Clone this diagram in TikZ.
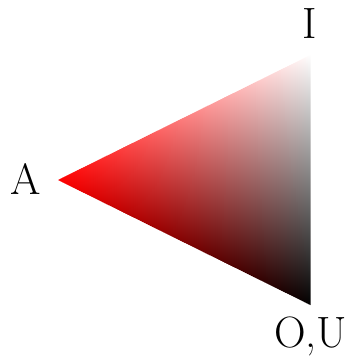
\documentclass[tikz,border=0pt]{standalone}
\begin{document}
\begin{tikzpicture}[x=1bp,y=-1bp,
  lbl/.style={anchor=base,inner sep=0pt,font=\fontsize{44}{50}\selectfont}]
\useasboundingbox (0,0) rectangle (349,360);
\coordinate (A) at (58,180);
\coordinate (I) at (310.5,55);
\coordinate (O) at (310.5,305);
\begin{scope}
\clip (A) -- (I) -- (O) -- cycle;
\foreach \k in {0,...,119}{
  \pgfmathsetmacro{\xa}{58+\k*2.10417}
  \pgfmathsetmacro{\xb}{\xa+2.10417+0.6}
  \pgfmathsetmacro{\tp}{(\k+0.5)/1.2}
  \pgfmathsetmacro{\ya}{180-(\xb-58)*0.49505-1}
  \pgfmathsetmacro{\yb}{180+(\xb-58)*0.49505+1}
  \shade[top color=white!\tp!red, bottom color=black!\tp!red] (\xa,\ya) rectangle (\xb,\yb);
}
\end{scope}
\node[lbl] (lI) at (310,38) {I};
\node[lbl] (lA) at (25.5,194) {A};
\node[lbl] (lO) at (310.5,347) {O,U};
\end{tikzpicture}
\end{document}
